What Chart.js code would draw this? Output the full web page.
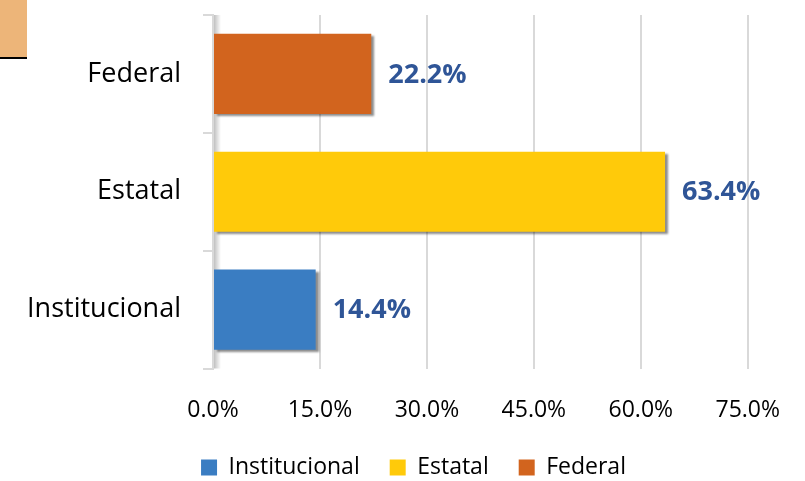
<!DOCTYPE html>
<html>
<head>
<meta charset="utf-8">
<script src="https://cdn.jsdelivr.net/npm/chart.js@4/dist/chart.umd.min.js"></script>
<style>
  html, body { margin: 0; padding: 0; background: #fff; }
  #wrap { position: relative; width: 805px; height: 481px; }
  #corner { position: absolute; left: 0; top: 0; width: 27px; height: 57px; background: #EDB579; border-bottom: 2px solid #000; }
</style>
</head>
<body>
<div id="wrap">
  <div id="corner"></div>
  <canvas id="chart" width="805" height="481"></canvas>
</div>
<script>
// categories top to bottom, and series (one per category)
const categories = ['Federal', 'Estatal', 'Institucional'];
const seriesNames = ['Institucional', 'Estatal', 'Federal'];
const institucional = [null, null, 14.4];
const estatal = [null, 63.4, null];
const federal = [22.2, null, null];
const xTicks = [0, 15, 30, 45, 60, 75];

const colors = {
    Institucional: '#3A7DC2',
    Estatal: '#FFCA0A',
    Federal: '#D2641E'
};

// draws the bold percentage next to each bar, plus a soft bar shadow
const valueLabels = {
    id: 'valueLabels',
    afterLayout(chart) {
        // legend sits a bit right of centre in the original
        if (chart.legend) {
            chart.legend.left += 18;
            chart.legend.right += 18;
        }
    },
    beforeDatasetsDraw(chart) {
        const ctx = chart.ctx;
        const a = chart.chartArea;
        // faint shaded wall next to the axis
        ctx.save();
        const g = ctx.createLinearGradient(a.left, 0, a.left + 8, 0);
        g.addColorStop(0, 'rgba(0,0,0,0.28)');
        g.addColorStop(1, 'rgba(0,0,0,0)');
        ctx.fillStyle = g;
        ctx.fillRect(a.left + 1, a.top, 8, a.bottom - a.top);
        ctx.restore();
        ctx.save();
        ctx.shadowColor = 'rgba(0,0,0,0.45)';
        ctx.shadowOffsetX = 3;
        ctx.shadowOffsetY = 2;
        ctx.shadowBlur = 2;
    },
    afterDatasetsDraw(chart) {
        const ctx = chart.ctx;
        ctx.restore();
        ctx.save();
        ctx.font = 'bold 27px "Open Sans", sans-serif';
        ctx.fillStyle = '#2F5597';
        ctx.textBaseline = 'middle';
        ctx.textAlign = 'left';
        chart.data.datasets.forEach(function(ds, i) {
            const meta = chart.getDatasetMeta(i);
            meta.data.forEach(function(bar, j) {
                const v = ds.data[j];
                if (v === null) return;
                ctx.fillText(v.toFixed(1) + '%', bar.x + 17, bar.y + 1);
            });
        });
        ctx.restore();
    }
};

const ctx = document.getElementById('chart').getContext('2d');
const chart = new Chart(ctx, {
    type: 'bar',
    data: {
        labels: categories,
        datasets: [
            { label: seriesNames[0], data: institucional, backgroundColor: colors.Institucional },
            { label: seriesNames[1], data: estatal, backgroundColor: colors.Estatal },
            { label: seriesNames[2], data: federal, backgroundColor: colors.Federal }
        ]
    },
    options: {
        indexAxis: 'y',
        responsive: false,
        animation: false,
        layout: { padding: { left: 0, right: 14, top: 15, bottom: -8 } },
        datasets: { bar: { barPercentage: 0.68, categoryPercentage: 1, borderWidth: 0 } },
        scales: {
            x: {
                min: 0,
                max: 75,
                afterBuildTicks: function(axis) {
                    axis.ticks = xTicks.map(function(v) { return { value: v }; });
                },
                afterFit: function(scale) {
                    scale.height = scale.height - 27;
                },
                ticks: {
                    color: '#000',
                    font: { family: '"Open Sans", sans-serif', size: 23, lineHeight: 1.5 },
                    padding: 25,
                    callback: function(v) { return v.toFixed(1) + '%'; }
                },
                grid: { color: '#D9D9D9', lineWidth: 2, drawTicks: false },
                border: { display: false }
            },
            y: {
                stacked: true,
                ticks: {
                    color: '#000',
                    font: { family: '"Open Sans", sans-serif', size: 27 },
                    padding: 22
                },
                afterFit: function(scale) {
                    scale.width = 213;
                    scale.paddingTop = 0;
                    scale.paddingBottom = 0;
                },
                grid: {
                    display: true,
                    drawOnChartArea: false,
                    drawTicks: true,
                    tickLength: 10,
                    offset: true,
                    color: '#D9D9D9',
                    lineWidth: 2
                },
                border: { display: true, color: '#D9D9D9', width: 2 }
            }
        },
        plugins: {
            legend: {
                position: 'bottom',
                labels: {
                    color: '#000',
                    font: { family: '"Open Sans", sans-serif', size: 23 },
                    boxWidth: 16,
                    boxHeight: 16,
                    padding: 30
                }
            },
            tooltip: { enabled: false }
        }
    },
    plugins: [valueLabels]
});
</script>
</body>
</html>
